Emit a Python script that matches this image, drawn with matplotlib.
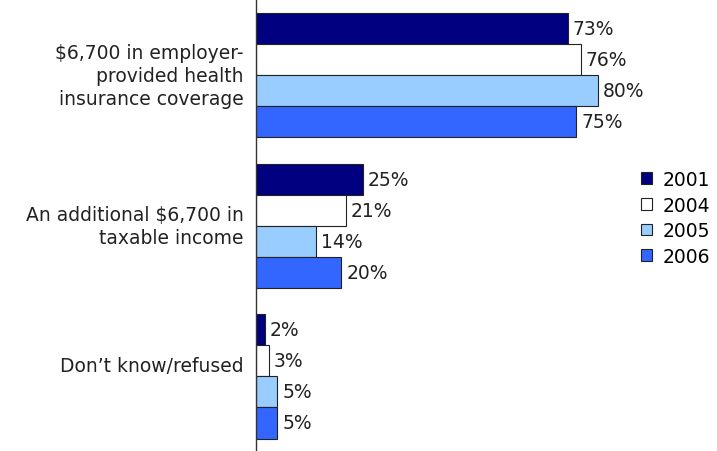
import matplotlib
matplotlib.use("Agg")
import matplotlib.pyplot as plt
import matplotlib.transforms as mtrans
from matplotlib.patches import Patch
import numpy as np

categories = ["$6,700 in employer-\nprovided health\ninsurance coverage",
              "An additional $6,700 in\ntaxable income",
              "Don\u2019t know/refused"]
series_names = ["2001", "2004", "2005", "2006"]
values_2001 = [73, 25, 2]
values_2004 = [76, 21, 3]
values_2005 = [80, 14, 5]
values_2006 = [75, 20, 5]
series_values = [values_2001, values_2004, values_2005, values_2006]
colors = ["#000080", "#FFFFFF", "#99CCFF", "#3366FF"]

plt.rcParams['font.family'] = ['DejaVu Sans']
FS = 13.5
W, H = 717, 452
fig = plt.figure(figsize=(W/100, H/100), dpi=100)
ax = fig.add_axes([256/W, 0, (716-256)/W, 1])

px_per_pct = 4.27
ax.set_xlim(0, (716-256)/px_per_pct)
bar_h = 31/150.5
ax.set_ylim(2.495, -0.508)

for i, (name, vals, c) in enumerate(zip(series_names, series_values, colors)):
    ys = np.arange(len(categories)) + (i - 1.5) * bar_h
    ax.barh(ys, vals, height=bar_h, color=c, edgecolor="#222222", linewidth=0.8, label=name)
    for y, v in zip(ys, vals):
        ax.text(v + 1.2, y, f"{v}%", va="center", ha="left", fontsize=FS, color="#222222")

ax.set_yticks(np.arange(len(categories)))
ax.set_yticklabels(categories, fontsize=FS, color="#222222", linespacing=1.27, ha="right")
ax.tick_params(axis="y", length=0, pad=9)
label_shift_px = [4, 4, 13]
for lab, dy in zip(ax.get_yticklabels(), label_shift_px):
    lab.set_transform(lab.get_transform() + mtrans.Affine2D().translate(0, dy))
ax.set_xticks([])
for s in ["top", "right", "bottom"]:
    ax.spines[s].set_visible(False)
ax.spines["left"].set_color("#333333")
ax.spines["left"].set_linewidth(1.0)

handles = [Patch(facecolor=c, edgecolor="#222222", linewidth=0.8) for c in colors]
leg = fig.legend(handles, series_names, loc="upper left", bbox_to_anchor=(641/W, 1 - 171/H),
                 frameon=False, fontsize=FS, handlelength=0.6, handleheight=0.6,
                 handletextpad=0.55, labelspacing=0.35, borderpad=0, borderaxespad=0)

fig.savefig("out.png", dpi=100)
